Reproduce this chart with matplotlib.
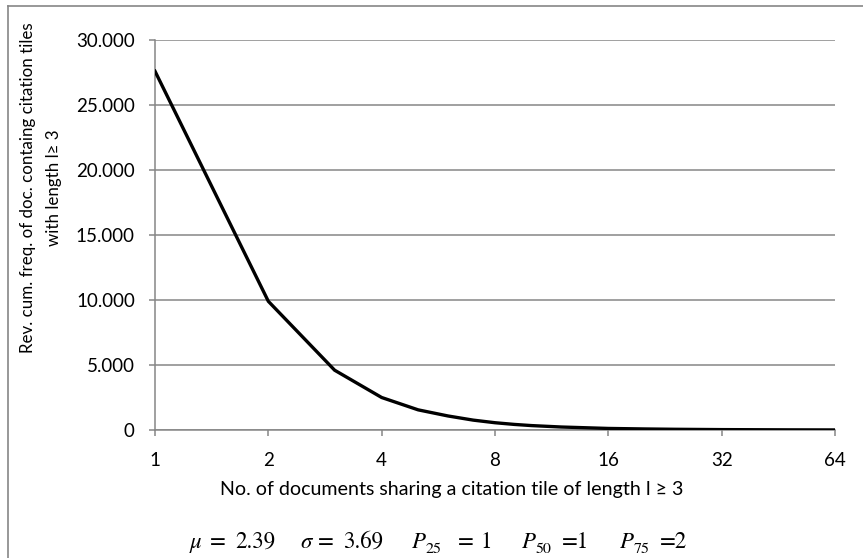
import matplotlib
matplotlib.use("Agg")
import matplotlib.pyplot as plt
from matplotlib.ticker import FuncFormatter, FixedLocator, NullLocator
from matplotlib.lines import Line2D

# Data
docs_sharing = [1, 2, 3, 4, 5, 6, 7, 8, 9, 10, 12, 16, 20, 24, 32, 48, 64]
rev_cum_freq = [27600, 9900, 4600, 2500, 1550, 1080, 760, 560, 430, 340, 230,
                120, 80, 55, 30, 12, 5]
x_ticks = [1, 2, 4, 8, 16, 32, 64]
y_ticks = [0, 5000, 10000, 15000, 20000, 25000, 30000]
# statistics line: (text, italic?) pieces and their left x in pixels
stats_parts = [("\u03bc", True), ("=", False), ("2.39", False), ("\u03c3", True), ("=", False),
               ("3.69", False), ("P", True), ("=", False), ("1", False), ("P", True),
               ("=1", False), ("P", True), ("=2", False)]
stats_x_px = [190, 210, 235, 300, 318, 343, 412, 458, 480, 522, 562, 620, 660]
stats_subs = ["25", "50", "75"]
stats_subs_x_px = [426, 536, 634]
xlabel = "No. of documents sharing a citation tile of length l \u2265 3"
ylabel = "Rev. cum. freq. of doc. containg citation tiles\nwith length l\u2265 3"

W, H = 863, 558
DPI = 100
plt.rcParams['font.family'] = ['Lato', 'DejaVu Sans']
plt.rcParams['mathtext.fontset'] = 'stix'

fig = plt.figure(figsize=(W / DPI, H / DPI), dpi=DPI)
fig.patch.set_facecolor('white')

GRAY = '#868686'
ax = fig.add_axes([155 / W, 1 - 430 / H, (835 - 155) / W, (430 - 40) / H])
ax.plot(docs_sharing, rev_cum_freq, color='black', lw=2.4, solid_joinstyle='miter', zorder=3)

ax.set_xscale('log', base=2)
ax.set_xlim(1, 64)
ax.set_ylim(0, 30000)
ax.xaxis.set_major_locator(FixedLocator(x_ticks))
ax.xaxis.set_minor_locator(NullLocator())
ax.xaxis.set_major_formatter(FuncFormatter(lambda v, p: f"{int(round(v))}"))
ax.yaxis.set_major_locator(FixedLocator(y_ticks))
ax.yaxis.set_major_formatter(FuncFormatter(lambda v, p: "0" if v == 0 else f"{int(v):,}".replace(",", ".")))

ax.grid(axis='y', color=GRAY, lw=1.1)
ax.set_axisbelow(True)
for s in ['top', 'right']:
    ax.spines[s].set_visible(False)
for s in ['left', 'bottom']:
    ax.spines[s].set_color(GRAY)
    ax.spines[s].set_linewidth(1.1)
ax.tick_params(axis='both', direction='out', length=4, width=1.1, color=GRAY,
               labelsize=13.5, labelcolor='black')
ax.tick_params(axis='y', pad=10.5)
ax.tick_params(axis='x', pad=12)

fig.text(452 / W, 1 - 490 / H, xlabel, ha='center', va='center', fontsize=14.1)
fig.text(41 / W, 1 - 188 / H, ylabel, ha='center', va='center', rotation=90,
         fontsize=12.2, multialignment='center', linespacing=1.75)

STIX = ['STIXGeneral', 'DejaVu Serif']
for (part, ital), xp in zip(stats_parts, stats_x_px):
    fig.text(xp / W, 1 - 548 / H, part, ha='left', va='baseline', fontsize=16.5,
             family=STIX, style='italic' if ital else 'normal')
for sub, xp in zip(stats_subs, stats_subs_x_px):
    fig.text(xp / W, 1 - 553 / H, sub, ha='left', va='baseline', fontsize=11.5, family=STIX)

# chart-area border (top and left visible)
fig.add_artist(Line2D([8 / W, 8 / W], [0, 1 - 6 / H], transform=fig.transFigure, color=GRAY, lw=1.2))
fig.add_artist(Line2D([8 / W, 1], [1 - 6 / H, 1 - 6 / H], transform=fig.transFigure, color=GRAY, lw=1.2))

fig.savefig("out.png", dpi=DPI, facecolor='white')
